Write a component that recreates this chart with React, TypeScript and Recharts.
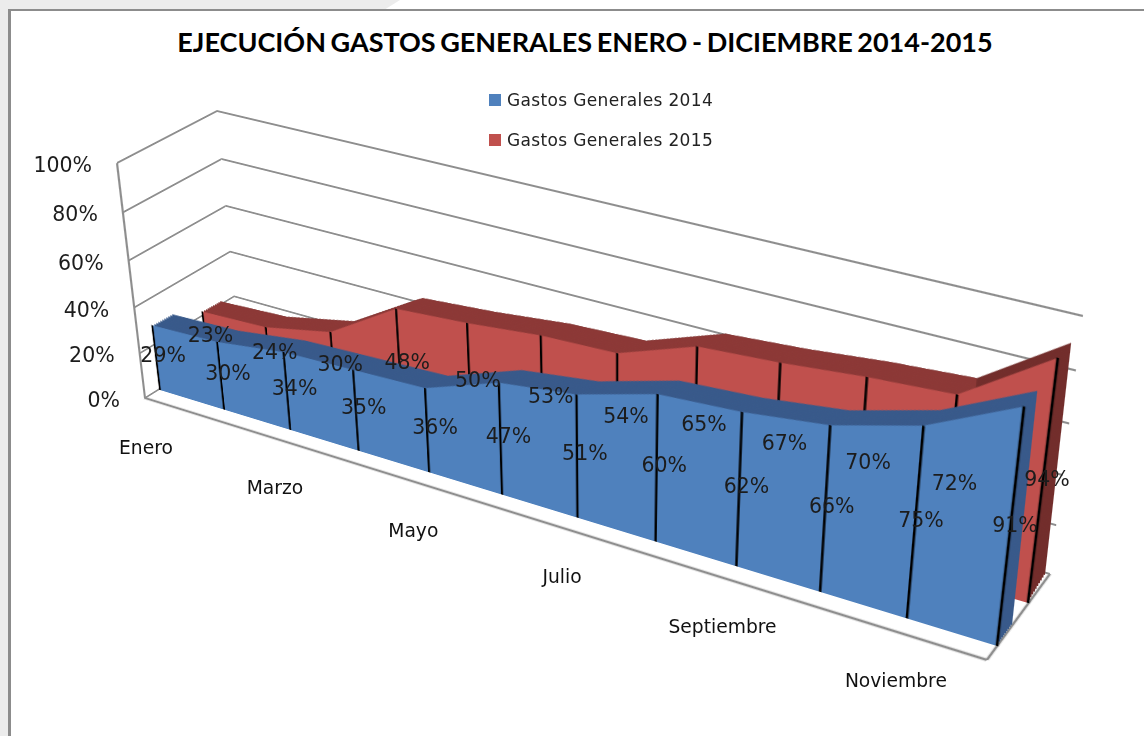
import React from "react";
import {
  AreaChart,
  Area,
  LineChart,
  Line,
  XAxis,
  YAxis,
  CartesianGrid,
  ReferenceLine,
  Legend,
} from "recharts";

const months = ["Enero", "Febrero", "Marzo", "Abril", "Mayo", "Junio", "Julio", "Agosto", "Septiembre", "Octubre", "Noviembre", "Diciembre"];
const gastos2014 = [29, 30, 34, 35, 36, 47, 51, 60, 62, 66, 75, 91];
const gastos2015 = [23, 24, 30, 48, 50, 53, 54, 65, 67, 70, 72, 94];
const pctTicks = [0, 20, 40, 60, 80, 100];
const TITLE = "EJECUCIÓN GASTOS GENERALES ENERO - DICIEMBRE 2014-2015";
const NAME_2014 = "Gastos Generales 2014";
const NAME_2015 = "Gastos Generales 2015";

const rows = months.map((month, i) => ({ month, g14: gastos2014[i], g15: gastos2015[i] }));
const unitRows = [{ f: 0, pct: 0 }, { f: 1, pct: 100 }];

type Pt = [number, number];
type Quad = [Pt, Pt, Pt, Pt]; // top-left, top-right, bottom-right, bottom-left

const W = 900;
const H = 250;
const M = 12;
const OVER_LEFT = 41;
const OVER_TOP = 20;

const QUADS: Record<string, Quad> = {
  blueFront: [[132, 157], [1027, 381], [997, 646], [160, 390]],
  blueRear: [[152, 146], [1040, 366], [1012, 625], [180, 379]],
  redFront: [[182, 132], [1060, 341], [1028, 603], [208, 362]],
  redRear: [[200, 122], [1073, 327], [1045, 575], [226, 352]],
  backWall: [[217, 111], [1083, 316], [1050, 574], [238, 340]],
  leftWall: [[217, 111], [117, 163], [145, 398], [238, 340]],
  floor: [[238, 340], [1050, 574], [987, 660], [145, 398]],
};

const mix = (a: Quad, b: Quad, t: number): Quad =>
  a.map((p, i) => [p[0] + (b[i][0] - p[0]) * t, p[1] + (b[i][1] - p[1]) * t]) as Quad;

function homography(q: Quad, w: number, h: number) {
  const [[x0, y0], [x1, y1], [x2, y2], [x3, y3]] = q;
  const dx1 = x1 - x2, dx2 = x3 - x2, dx3 = x0 - x1 + x2 - x3;
  const dy1 = y1 - y2, dy2 = y3 - y2, dy3 = y0 - y1 + y2 - y3;
  const den = dx1 * dy2 - dx2 * dy1;
  const g = (dx3 * dy2 - dx2 * dy3) / den;
  const k = (dx1 * dy3 - dx3 * dy1) / den;
  return {
    a: (x1 - x0 + g * x1) / w,
    b: (x3 - x0 + k * x3) / h,
    c: x0,
    d: (y1 - y0 + g * y1) / w,
    e: (y3 - y0 + k * y3) / h,
    f: y0,
    g: g / w,
    k: k / h,
  };
}

function project(q: Quad, x: number, y: number, w = W, h = H): Pt {
  const m = homography(q, w, h);
  const s = m.g * x + m.k * y + 1;
  return [(m.a * x + m.b * y + m.c) / s, (m.d * x + m.e * y + m.f) / s];
}

function Plane({ quad, w = W, h = H, children }: { quad: Quad; w?: number; h?: number; children: (size: any) => React.ReactNode }) {
  const m = homography(quad, w, h);
  const matrix = [m.a, m.d, 0, m.g, m.b, m.e, 0, m.k, 0, 0, 1, 0, m.c, m.f, 0, 1].join(",");
  return (
    <div
      style={{
        position: "absolute",
        left: 0,
        top: 0,
        width: w + 2 * M,
        height: h + 2 * M,
        transformOrigin: "0 0",
        transform: `matrix3d(${matrix}) translate(${-M}px, ${-M}px)`,
      }}
    >
      {children({ width: w + 2 * M, height: h + 2 * M, margin: { top: M, left: M, right: M, bottom: M } })}
    </div>
  );
}

const hiddenX = <XAxis dataKey="month" hide />;
const hiddenY = <YAxis hide domain={[0, 100]} ticks={pctTicks} />;

function AreaLayer({ quad, dataKey, fill, drops }: { quad: Quad; dataKey: any; fill: string; drops?: boolean }) {
  const drop = (p: any) => (
    <line key={p.index} x1={p.cx} y1={p.cy} x2={p.cx} y2={M + H} stroke="#000" strokeWidth={2.4} />
  );
  return (
    <Plane quad={quad}>
      {(size) => (
        <AreaChart {...size} data={rows}>
          {hiddenX}
          {hiddenY}
          <Area
            dataKey={dataKey}
            type="linear"
            fill={fill}
            fillOpacity={1}
            stroke="none"
            isAnimationActive={false}
            dot={drops ? drop : false}
            activeDot={false}
          />
        </AreaChart>
      )}
    </Plane>
  );
}

const SWEEP = [1, 0.9, 0.8, 0.7, 0.6, 0.5, 0.4, 0.3, 0.2, 0.1];
const upToNov = (key: "g14" | "g15") => (d: any) => (d.month === "Diciembre" ? null : d[key]);

const FONT = "'DejaVu Sans', sans-serif";

function renderLegend(props: any) {
  return (
    <div style={{ fontFamily: FONT, fontSize: 17, letterSpacing: 0.35, color: "#222" }}>
      {(props.payload || []).map((e: any) => (
        <div key={e.value} style={{ display: "flex", alignItems: "center", height: 40, whiteSpace: "nowrap" }}>
          <span style={{ width: 12, height: 12, background: e.color, marginRight: 6, display: "inline-block" }} />
          {e.value}
        </div>
      ))}
    </div>
  );
}

const pctLabel = (quad: Quad, values: number[], dy: number) => (p: any) => {
  const [x, y] = project(quad, p.x - OVER_LEFT, p.y - OVER_TOP);
  return (
    <text key={p.index} x={x} y={y + dy} textAnchor="middle" dominantBaseline="central" fontFamily={FONT} fontSize={20.5} fill="#1c1c1c">
      {values[p.index]}%
    </text>
  );
};

const yTick = (p: any) => {
  const [x, y] = project(QUADS.leftWall, 100, p.y - OVER_TOP, 100, H);
  return (
    <text x={x - 25} y={y + 2} textAnchor="end" dominantBaseline="central" fontFamily={FONT} fontSize={20.5} fill="#1c1c1c">
      {p.payload.value}%
    </text>
  );
};

const xTick = (p: any) => {
  const [x, y] = project(QUADS.floor, p.x - OVER_LEFT, 100, W, 100);
  return (
    <text x={x + 1} y={y + 49} textAnchor="middle" dominantBaseline="central" fontFamily={FONT} fontSize={18.7} fill="#111">
      {p.payload.value}
    </text>
  );
};

export default function App() {
  const grid = "#8e8e8e";
  return (
    <div style={{ position: "absolute", left: 0, top: 0, width: 1144, height: 736, background: "#fff", overflow: "hidden" }}>
      <div style={{ position: "absolute", left: 0, top: 0, width: 9, height: 736, background: "#ececec" }} />
      <div style={{ position: "absolute", left: 0, top: 0, width: 400, height: 10, background: "#ececec", clipPath: "polygon(0 0, 100% 0, 96% 100%, 0 100%)" }} />
      <div style={{ position: "absolute", left: 8, top: 9, width: 1136, height: 2, background: "#8c8c8c" }} />
      <div style={{ position: "absolute", left: 8, top: 9, width: 3, height: 727, background: "#8c8c8c" }} />

      <div style={{ position: "absolute", left: 85, top: 25, width: 1000, textAlign: "center", fontFamily: "Lato, sans-serif", fontWeight: 700, fontSize: 27, wordSpacing: -2, color: "#000", whiteSpace: "nowrap", lineHeight: "34px" }}>
        {TITLE}
      </div>

      <Plane quad={QUADS.backWall}>
        {(size) => (
          <LineChart {...size} data={unitRows}>
            <XAxis type="number" dataKey="f" domain={[0, 1]} hide />
            {hiddenY}
            <CartesianGrid vertical={false} stroke={grid} strokeWidth={2} />
            <Line dataKey="pct" strokeOpacity={0} dot={false} activeDot={false} isAnimationActive={false} />
          </LineChart>
        )}
      </Plane>
      <Plane quad={QUADS.leftWall} w={100}>
        {(size) => (
          <LineChart {...size} data={unitRows}>
            <XAxis type="number" dataKey="f" domain={[0, 1]} hide />
            {hiddenY}
            <CartesianGrid vertical={false} stroke={grid} strokeWidth={2} />
            <ReferenceLine x={1} stroke={grid} strokeWidth={2} />
            <Line dataKey="pct" strokeOpacity={0} dot={false} activeDot={false} isAnimationActive={false} />
          </LineChart>
        )}
      </Plane>
      <Plane quad={QUADS.floor} h={100}>
        {(size) => (
          <LineChart {...size} data={unitRows}>
            <XAxis type="number" dataKey="f" domain={[0, 1]} hide />
            <YAxis type="number" domain={[0, 1]} hide />
            <ReferenceLine y={0} stroke={grid} strokeWidth={2.4} />
            <ReferenceLine x={1} stroke={grid} strokeWidth={2.4} />
            <Line dataKey="f" strokeOpacity={0} dot={false} activeDot={false} isAnimationActive={false} />
          </LineChart>
        )}
      </Plane>

      {SWEEP.map((t) => (
        <AreaLayer key={`rd${t}`} quad={mix(QUADS.redFront, QUADS.redRear, t)} dataKey="g15" fill="#722d2b" />
      ))}
      {SWEEP.map((t) => (
        <AreaLayer key={`rm${t}`} quad={mix(QUADS.redFront, QUADS.redRear, t)} dataKey={upToNov("g15")} fill="#8c3836" />
      ))}
      <AreaLayer quad={QUADS.redFront} dataKey="g15" fill="#c0504d" drops />

      {SWEEP.map((t) => (
        <AreaLayer key={`bd${t}`} quad={mix(QUADS.blueFront, QUADS.blueRear, t)} dataKey="g14" fill="#38598a" />
      ))}
      <AreaLayer quad={QUADS.blueFront} dataKey="g14" fill="#4f81bd" drops />

      <div style={{ position: "absolute", left: 0, top: 0 }}>
        <LineChart width={1144} height={736} data={rows} margin={{ top: OVER_TOP, left: OVER_LEFT - 1, right: 1144 - W - OVER_LEFT, bottom: 736 - H - OVER_TOP - 1 }}>
          <XAxis dataKey="month" height={1} interval={1} axisLine={false} tickLine={false} tick={xTick} />
          <YAxis width={1} domain={[0, 100]} ticks={pctTicks} axisLine={false} tickLine={false} tick={yTick} />
          <Legend content={renderLegend} layout="vertical" verticalAlign="middle" align="center" wrapperStyle={{ left: 489, top: 80, width: 260, height: 80 }} />
          <Line
            name={NAME_2014}
            dataKey={(d: any) => d.g14 / 2}
            stroke="#4f81bd"
            strokeOpacity={0}
            dot={false}
            activeDot={false}
            isAnimationActive={false}
            label={pctLabel(mix(QUADS.blueFront, QUADS.blueRear, 0.35), gastos2014, 1)}
          />
          <Line
            name={NAME_2015}
            dataKey={(d: any) => d.g15 / 2}
            stroke="#c0504d"
            strokeOpacity={0}
            dot={false}
            activeDot={false}
            isAnimationActive={false}
            label={pctLabel(mix(QUADS.redFront, QUADS.redRear, 0.3), gastos2015, 1)}
          />
        </LineChart>
      </div>
    </div>
  );
}
